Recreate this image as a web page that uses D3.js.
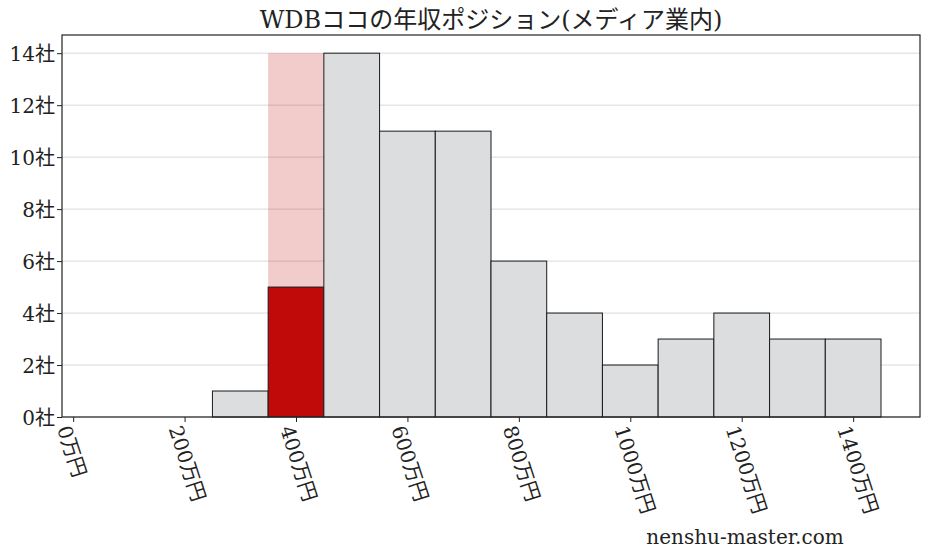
<!DOCTYPE html>
<html>
<head>
<meta charset="utf-8">
<script src="https://cdn.jsdelivr.net/npm/d3@7"></script>
<style>
  body { margin: 0; background: #fff; }
  text { font-family: "DejaVu Serif", "Liberation Serif", "Noto Sans CJK JP", serif; fill: #222; }
</style>
</head>
<body>
<div id="chart"></div>
<script>
  // 年収の階級(中央値, 万円) と社数
  const bins = [100, 200, 300, 400, 500, 600, 700, 800, 900, 1000, 1100, 1200, 1300, 1400];
  const counts = [0, 0, 1, 5, 14, 11, 11, 6, 4, 2, 3, 4, 3, 3];
  // 自社の階級
  const ownBin = 400;
  const ownCount = 5;
  const xTicks = [0, 200, 400, 600, 800, 1000, 1200, 1400];
  const yTicks = [0, 2, 4, 6, 8, 10, 12, 14];
  const title = "WDBココの年収ポジション(メディア業内)";

  let W = 928, H = 557;
  let m = { left: 62, right: 8, top: 35, bottom: 140 };
  let binW = 100;

  let svg = d3.select('#chart').append('svg').attr('width', W).attr('height', H);

  let lo = d3.min(bins) - binW / 2, hi = d3.max(bins) + binW / 2;
  let pad = (hi - lo) * 0.05;
  let x = d3.scaleLinear().domain([lo - pad, hi + pad]).range([m.left, W - m.right]);
  let yMax = d3.max(counts) * 1.05;
  let y = d3.scaleLinear().domain([0, yMax]).range([H - m.bottom, m.top]);

  // グリッド
  svg.append('g').selectAll('line').data(yTicks).enter().append('line')
     .attr('x1', m.left).attr('x2', W - m.right)
     .attr('y1', d => y(d)).attr('y2', d => y(d))
     .attr('stroke', '#d9d9d9').attr('stroke-width', 1);

  // 自社の位置を示す背景
  svg.append('rect')
     .attr('x', x(ownBin - binW / 2)).attr('width', x(ownBin + binW / 2) - x(ownBin - binW / 2))
     .attr('y', y(d3.max(counts))).attr('height', y(0) - y(d3.max(counts)))
     .attr('fill', '#c00a0a').attr('fill-opacity', 0.21);

  // 棒
  svg.append('g').selectAll('rect').data(bins).enter().append('rect')
     .filter((d, i) => counts[i] > 0)
     .attr('x', d => x(d - binW / 2))
     .attr('width', d => x(d + binW / 2) - x(d - binW / 2))
     .attr('y', d => y(d === ownBin ? ownCount : counts[bins.indexOf(d)]))
     .attr('height', d => y(0) - y(d === ownBin ? ownCount : counts[bins.indexOf(d)]))
     .attr('fill', d => d === ownBin ? '#c00a0a' : '#dcdddf')
     .attr('stroke', '#1a1a1a').attr('stroke-width', 1);

  // 枠
  svg.append('rect')
     .attr('x', m.left).attr('y', m.top)
     .attr('width', W - m.right - m.left).attr('height', H - m.bottom - m.top)
     .attr('fill', 'none').attr('stroke', '#222').attr('stroke-width', 1.2);

  // x軸
  let xAxis = svg.append('g').attr('transform', `translate(0,${H - m.bottom})`)
     .call(d3.axisBottom(x).tickValues(xTicks).tickSize(5).tickFormat(d => d + '万円'));
  xAxis.select('.domain').remove();
  xAxis.selectAll('line').attr('stroke', '#222');
  xAxis.selectAll('text')
     .attr('font-size', 20)
     .attr('text-anchor', 'start')
     .attr('dy', '0')
     .attr('transform', d => 'translate(-9,9) rotate(72)');

  // y軸
  let yAxis = svg.append('g').attr('transform', `translate(${m.left},0)`)
     .call(d3.axisLeft(y).tickValues(yTicks).tickSize(5).tickFormat(d => d + '社'));
  yAxis.select('.domain').remove();
  yAxis.selectAll('line').attr('stroke', '#222');
  yAxis.selectAll('text').attr('font-size', 20).attr('dy', '0.35em').attr('x', -7);

  // タイトル
  svg.append('text').attr('x', (m.left + W - m.right) / 2).attr('y', 28)
     .attr('text-anchor', 'middle').attr('font-size', 24).text(title);

  // 透かし
  svg.append('text').attr('x', 745).attr('y', 544)
     .attr('text-anchor', 'middle').attr('font-size', 20).text('nenshu-master.com');
</script>
</body>
</html>
